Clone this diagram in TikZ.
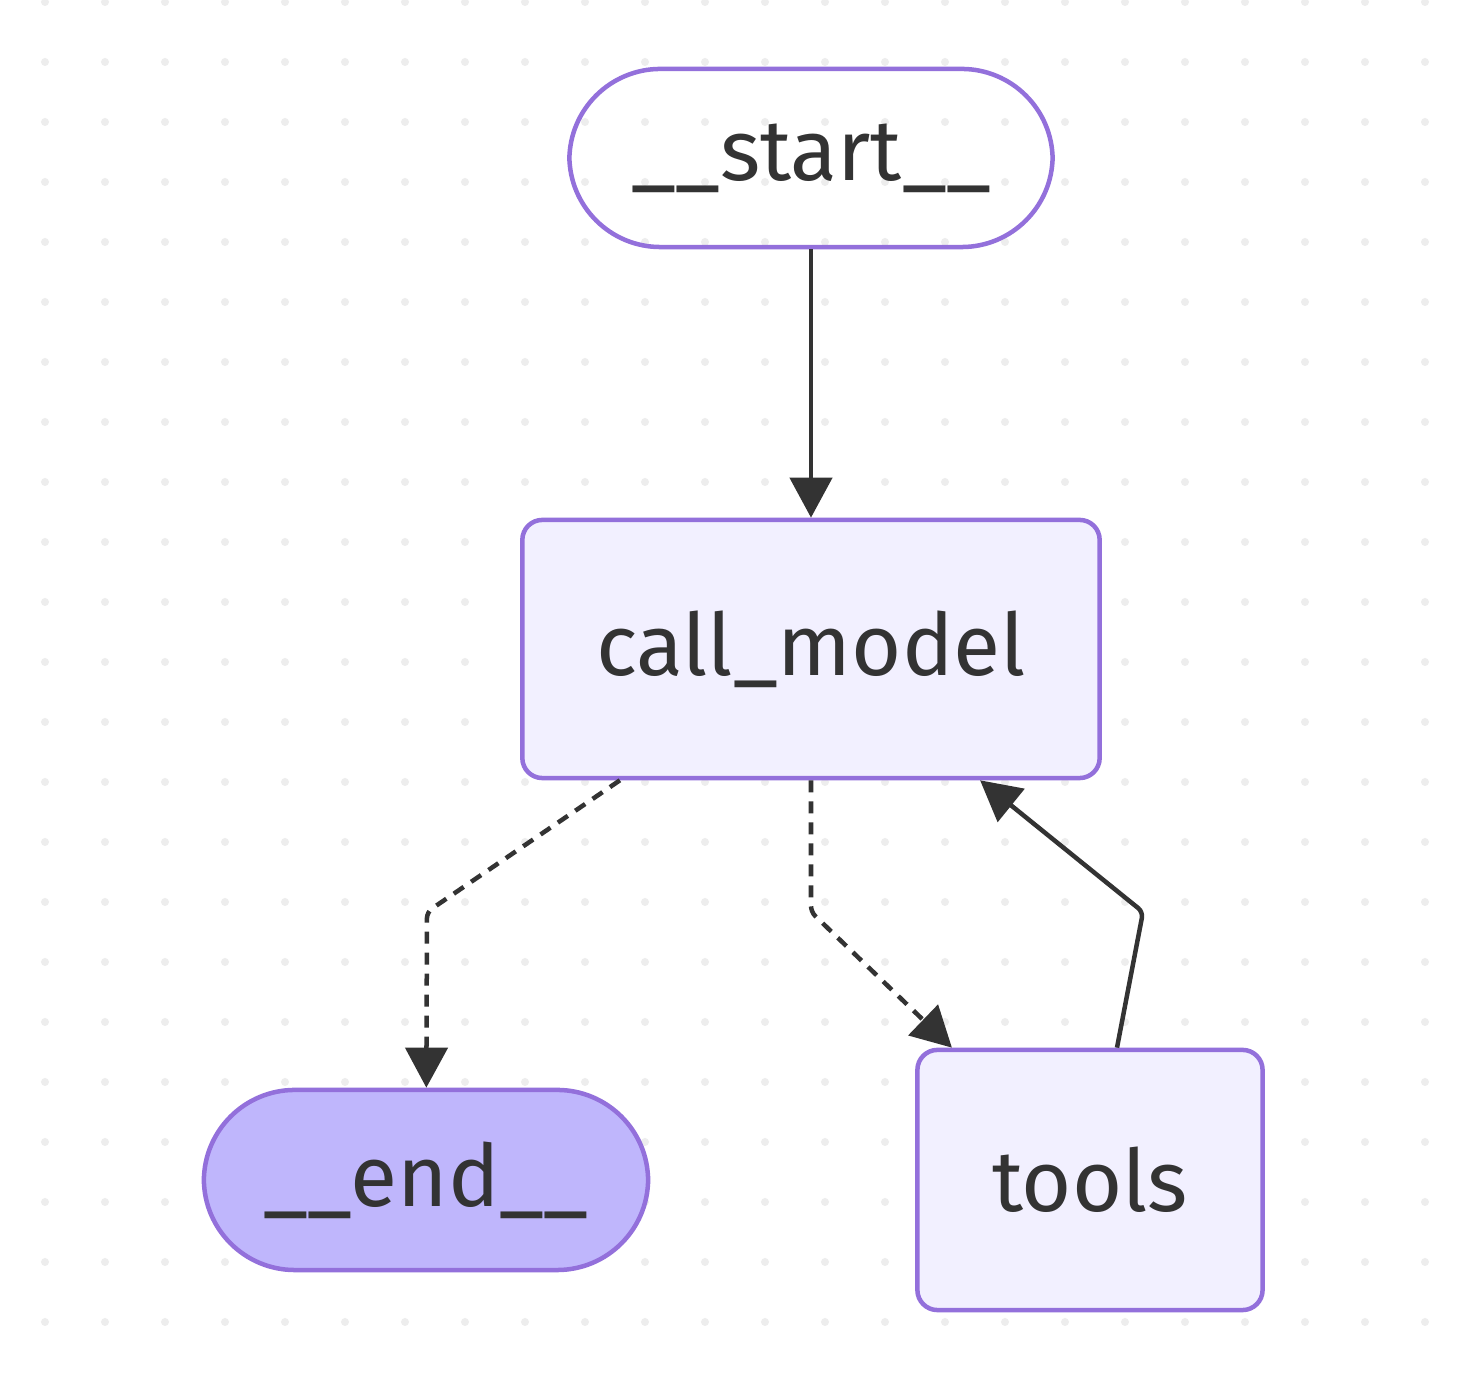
\documentclass[tikz,border=0pt]{standalone}
\usepackage{fontspec}
\setmainfont{Fira Sans}
\usetikzlibrary{arrows.meta, calc}
\definecolor{nodeborder}{HTML}{9370DB}
\definecolor{nodefill}{HTML}{F2F0FF}
\definecolor{endfill}{HTML}{BFB6FC}
\definecolor{inkgray}{HTML}{333333}
\definecolor{griddot}{HTML}{EDEDED}
\tikzset{
  graph node/.style={
    draw=nodeborder,
    line width=0.045cm,
    text=inkgray,
    inner sep=0pt,
    font=\fontsize{24.5}{29}\selectfont
  },
  terminal/.style={
    graph node,
    rounded corners=0.91cm
  },
  task box/.style={
    graph node,
    fill=nodefill,
    rounded corners=0.2cm
  },
  flow/.style={
    -{Triangle[length=0.4cm, width=0.42cm]},
    line width=0.045cm,
    draw=inkgray,
    rounded corners=0.06cm
  },
  cond flow/.style={
    flow,
    dash pattern=on 0.12cm off 0.09cm
  }
}
\begin{document}
\begin{tikzpicture}[x=0.01cm, y=-0.01cm]

  %% ---- frame and dotted background ----
  \clip (0,0) rectangle (1462,1374);
  \fill[white] (0,0) rectangle (1462,1374);
  \foreach \gx in {45,105,...,1425}
    \foreach \gy in {2,62,...,1322}
      \fill[griddot] (\gx,\gy) circle (0.04cm);

  %% ---- nodes ----
  \node[terminal, minimum width=4.83cm, minimum height=1.78cm] (start) at (811,158) {\_\_start\_\_};
  \node[task box, minimum width=5.77cm, minimum height=2.58cm] (call_model) at (811,649) {call\_model};
  \node[terminal, fill=endfill, minimum width=4.44cm, minimum height=1.80cm] (end) at (426,1180) {\_\_end\_\_};
  \node[task box, minimum width=3.45cm, minimum height=2.60cm] (tools) at (1090,1180) {tools};

  %% ---- bend points ----
  \coordinate (end bend) at (427,912);
  \coordinate (tools bend) at (811,912);
  \coordinate (back bend) at (1143,912);

  %% ---- connectors ----
  \draw[flow] (start) -- (call_model);
  \draw[cond flow] ([xshift=-1.91cm]call_model.south) -- (end bend) -- (end);
  \draw[cond flow] (call_model) -- (tools bend) -- ([xshift=-1.38cm]tools.north);
  \draw[flow] ([xshift=0.27cm]tools.north) -- (back bend) -- ([xshift=1.69cm]call_model.south);

\end{tikzpicture}
\end{document}
